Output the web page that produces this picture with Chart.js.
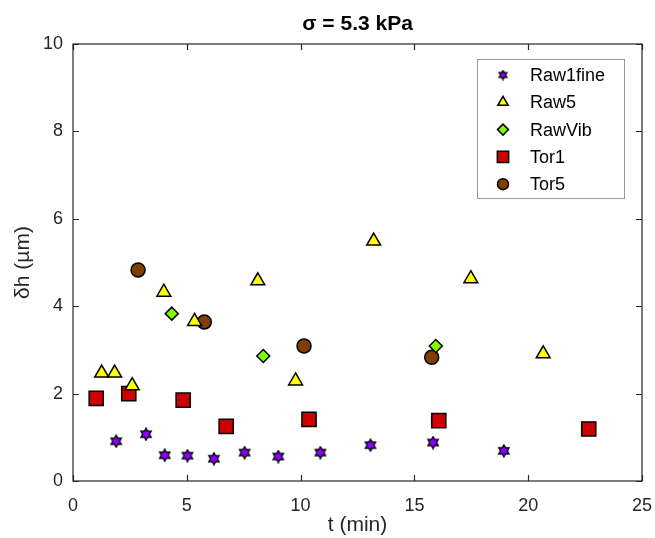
<!DOCTYPE html>
<html>
<head>
<meta charset="utf-8">
<script src="https://cdn.jsdelivr.net/npm/chart.js@4/dist/chart.umd.min.js"></script>
<style>
  html, body { margin: 0; padding: 0; background: #fff; }
  #wrap { width: 655px; height: 538px; position: relative; }
</style>
</head>
<body>
<div id="wrap"><canvas id="plot"></canvas></div>
<script>
// data (t in min, dh in um)
const raw1fineT = [1.90, 3.21, 4.03, 5.03, 6.19, 7.54, 9.02, 10.87, 13.07, 15.82, 18.93];
const raw1fineH = [0.91, 1.07, 0.59, 0.58, 0.51, 0.65, 0.56, 0.65, 0.82, 0.88, 0.69];
const raw5T = [1.26, 1.83, 2.60, 3.99, 5.34, 8.12, 9.78, 13.21, 17.48, 20.66];
const raw5H = [2.47, 2.47, 2.18, 4.32, 3.65, 4.58, 2.29, 5.49, 4.63, 2.91];
const rawVibT = [4.34, 8.36, 15.94];
const rawVibH = [3.83, 2.86, 3.09];
const tor1T = [1.02, 2.45, 4.84, 6.73, 10.37, 16.07, 22.66];
const tor1H = [1.89, 2.00, 1.85, 1.25, 1.41, 1.38, 1.19];
const tor5T = [2.86, 5.77, 10.15, 15.76];
const tor5H = [4.83, 3.64, 3.09, 2.83];

const xTicks = [0, 5, 10, 15, 20, 25];
const yTicks = [0, 2, 4, 6, 8, 10];

const FONT = '"Liberation Sans", Arial, sans-serif';
const INK = '#262626';

// six-pointed star, drawn once and used as a point image
function hexagram(size, fill) {
  const c = document.createElement('canvas');
  c.width = size; c.height = size;
  const g = c.getContext('2d');
  const cx = size / 2, cy = size / 2, R = size / 2 - 1, r = R * 0.577;
  g.beginPath();
  for (let i = 0; i < 12; i++) {
    const a = -Math.PI / 2 + i * Math.PI / 6;
    const rr = i % 2 === 0 ? R : r;
    const px = cx + rr * Math.cos(a), py = cy + rr * Math.sin(a);
    if (i === 0) g.moveTo(px, py); else g.lineTo(px, py);
  }
  g.closePath();
  g.fillStyle = fill;
  g.fill();
  g.lineWidth = 1.3;
  g.strokeStyle = '#000';
  g.stroke();
  return c;
}

const purple = '#8c00ff';
const starBig = hexagram(14, purple);
const starSmall = hexagram(11, purple);

function pts(xs, ys) {
  return xs.map((x, i) => ({ x: x, y: ys[i] }));
}

const sets = [
  { label: 'Raw1fine', data: pts(raw1fineT, raw1fineH), pointStyle: starBig, legendStyle: starSmall, pointRadius: 7, backgroundColor: purple },
  { label: 'Raw5', data: pts(raw5T, raw5H), pointStyle: 'triangle', pointRadius: 8, legendRadius: 6, backgroundColor: '#ffff00' },
  { label: 'RawVib', data: pts(rawVibT, rawVibH), pointStyle: 'rectRot', pointRadius: 6.5, legendRadius: 5.5, backgroundColor: '#80ff00' },
  { label: 'Tor1', data: pts(tor1T, tor1H), pointStyle: 'rect', pointRadius: 10, legendRadius: 8, backgroundColor: '#cc0000' },
  { label: 'Tor5', data: pts(tor5T, tor5H), pointStyle: 'circle', pointRadius: 7, legendRadius: 5.5, backgroundColor: '#7f3f00' }
];

// box, inward ticks, title and legend in the MATLAB look
const framePlugin = {
  id: 'frame',
  afterDraw(chart) {
    const ctx = chart.ctx;
    const a = chart.chartArea;
    const xs = chart.scales.x, ys = chart.scales.y;
    const tl = 6;
    ctx.save();
    ctx.strokeStyle = INK;
    ctx.lineWidth = 1.2;
    ctx.strokeRect(a.left, a.top, a.right - a.left, a.bottom - a.top);
    ctx.beginPath();
    xTicks.forEach(v => {
      const px = Math.round(xs.getPixelForValue(v)) + 0.5;
      ctx.moveTo(px, a.bottom); ctx.lineTo(px, a.bottom - tl);
      ctx.moveTo(px, a.top); ctx.lineTo(px, a.top + tl);
    });
    yTicks.forEach(v => {
      const py = Math.round(ys.getPixelForValue(v)) + 0.5;
      ctx.moveTo(a.left, py); ctx.lineTo(a.left + tl, py);
      ctx.moveTo(a.right, py); ctx.lineTo(a.right - tl, py);
    });
    ctx.stroke();

    // title
    ctx.fillStyle = '#000';
    ctx.font = 'bold 21px ' + FONT;
    ctx.textAlign = 'center';
    ctx.textBaseline = 'middle';
    ctx.fillText('σ = 5.3 kPa', (a.left + a.right) / 2, 24);

    // legend
    const lx = 477, ly = 59, lw = 147, lh = 139;
    ctx.fillStyle = '#fff';
    ctx.fillRect(lx, ly, lw, lh);
    ctx.strokeStyle = '#999';
    ctx.lineWidth = 1;
    ctx.strokeRect(lx + 0.5, ly + 0.5, lw, lh);
    ctx.font = '18px ' + FONT;
    ctx.textAlign = 'left';
    chart.data.datasets.forEach((ds, i) => {
      const y = 75 + i * 27.3;
      ctx.fillStyle = ds.backgroundColor;
      ctx.strokeStyle = '#000';
      ctx.lineWidth = 1.5;
      if (ds.legendStyle) {
        ctx.drawImage(ds.legendStyle, 503 - ds.legendStyle.width / 2, y - ds.legendStyle.height / 2);
      } else {
        Chart.helpers.drawPoint(ctx, { pointStyle: ds.pointStyle, radius: ds.legendRadius, borderWidth: 1.5, rotation: 0 }, 503, y);
      }
      ctx.fillStyle = '#000';
      ctx.fillText(ds.label, 530, y + 1);
    });
    ctx.restore();
  }
};

const chart = new Chart(document.getElementById('plot'), {
  type: 'scatter',
  data: {
    datasets: sets.map(s => Object.assign({
      borderColor: '#000',
      borderWidth: 1.5,
      pointHoverRadius: s.pointRadius
    }, s))
  },
  options: {
    responsive: true,
    maintainAspectRatio: false,
    animation: false,
    layout: { padding: { top: 44, right: 13, left: 0, bottom: 0 } },
    plugins: { legend: { display: false }, tooltip: { enabled: false } },
    scales: {
      x: {
        type: 'linear', min: 0, max: 25,
        afterBuildTicks: s => { s.ticks = xTicks.map(v => ({ value: v })); },
        afterFit: s => { s.height = 57; s.paddingLeft = 0; s.paddingRight = 0; },
        grid: { display: false, drawTicks: false },
        border: { display: false },
        ticks: { color: INK, font: { family: FONT, size: 18 }, padding: 14, maxRotation: 0 },
        title: { display: true, text: 't (min)', color: INK, font: { family: FONT, size: 21 }, padding: { top: 0, bottom: 0 } }
      },
      y: {
        type: 'linear', min: 0, max: 10,
        afterBuildTicks: s => { s.ticks = yTicks.map(v => ({ value: v })); },
        afterFit: s => { s.width = 73; s.paddingTop = 0; s.paddingBottom = 0; },
        grid: { display: false, drawTicks: false },
        border: { display: false },
        ticks: { color: INK, font: { family: FONT, size: 18 }, padding: 10 },
        title: { display: true, text: 'δh (µm)', color: INK, font: { family: FONT, size: 21 }, padding: { top: 11, bottom: 0 } }
      }
    }
  },
  plugins: [framePlugin]
});
</script>
</body>
</html>
